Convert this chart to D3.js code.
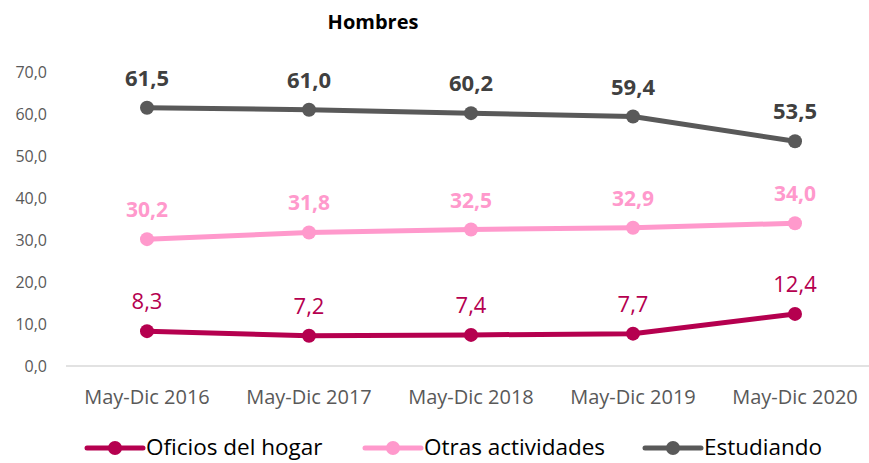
<!DOCTYPE html>
<html>
<head>
<meta charset="utf-8">
<script src="https://d3js.org/d3.v7.min.js"></script>
<style>
  body { margin: 0; background: #fff; }
  text { font-family: "Open Sans", "Noto Sans", sans-serif; }
</style>
</head>
<body>
<div id="chart"></div>
<script>
// data
var periods = ["May-Dic 2016", "May-Dic 2017", "May-Dic 2018", "May-Dic 2019", "May-Dic 2020"];
var oficios = [8.3, 7.2, 7.4, 7.7, 12.4];
var otras = [30.2, 31.8, 32.5, 32.9, 34.0];
var estudiando = [61.5, 61.0, 60.2, 59.4, 53.5];
var yTicks = [0, 10, 20, 30, 40, 50, 60, 70];

var series = [
  {name: "Oficios del hogar", values: oficios, color: "#B5004F", labelColor: "#B5004F", weight: "normal", size: 22},
  {name: "Otras actividades", values: otras, color: "#FF99CC", labelColor: "#FF99CC", weight: "bold", size: 21},
  {name: "Estudiando", values: estudiando, color: "#595959", labelColor: "#404040", weight: "bold", size: 22}
];

var width = 869, height = 463;
var fmt = function(v) { return v.toFixed(1).replace(".", ","); };

var svg = d3.select("#chart").append("svg")
    .attr("width", width)
    .attr("height", height);

var x = d3.scalePoint()
    .domain(periods)
    .range([147, 795]);

var y = d3.scaleLinear()
    .domain([0, 70])
    .range([366, 72]);

// title
svg.append("text")
    .attr("x", 373).attr("y", 29)
    .attr("text-anchor", "middle")
    .style("font-weight", "bold")
    .style("font-size", "20px")
    .attr("fill", "#000")
    .text("Hombres");

// y axis labels
svg.selectAll(".ytick")
  .data(yTicks)
  .enter().append("text")
    .attr("class", "ytick")
    .attr("x", 47)
    .attr("y", function(d) { return y(d); })
    .attr("dy", "0.35em")
    .attr("text-anchor", "end")
    .style("font-size", "16px")
    .attr("fill", "#595959")
    .text(function(d) { return fmt(d); });

// baseline
svg.append("line")
    .attr("x1", 66).attr("x2", 876)
    .attr("y1", y(0)).attr("y2", y(0))
    .attr("stroke", "#d9d9d9")
    .attr("stroke-width", 1.5);

// x labels
svg.selectAll(".xtick")
  .data(periods)
  .enter().append("text")
    .attr("class", "xtick")
    .attr("x", function(d) { return x(d); })
    .attr("y", 404)
    .attr("text-anchor", "middle")
    .style("font-size", "20px")
    .attr("fill", "#595959")
    .text(function(d) { return d; });

var line = d3.line()
    .x(function(d, i) { return x(periods[i]); })
    .y(function(d) { return y(d); });

series.forEach(function(s) {
  var g = svg.append("g");
  g.append("path")
      .datum(s.values)
      .attr("d", line)
      .attr("fill", "none")
      .attr("stroke", s.color)
      .attr("stroke-width", 5)
      .attr("stroke-linejoin", "round");

  g.selectAll("circle")
    .data(s.values)
    .enter().append("circle")
      .attr("cx", function(d, i) { return x(periods[i]); })
      .attr("cy", function(d) { return y(d); })
      .attr("r", 7)
      .attr("fill", s.color);

  g.selectAll(".lbl")
    .data(s.values)
    .enter().append("text")
      .attr("class", "lbl")
      .attr("x", function(d, i) { return x(periods[i]); })
      .attr("y", function(d) { return y(d) - 22; })
      .attr("text-anchor", "middle")
      .style("font-size", s.size + "px")
      .style("font-weight", s.weight)
      .attr("fill", s.labelColor)
      .text(function(d) { return fmt(d); });
});

// legend
var legendX = [87, 365, 645];
var legend = svg.selectAll(".legend")
  .data(series)
  .enter().append("g")
    .attr("class", "legend")
    .attr("transform", function(d, i) { return "translate(" + legendX[i] + ",448)"; });

legend.append("line")
    .attr("x1", 0).attr("x2", 56)
    .attr("y1", 0).attr("y2", 0)
    .attr("stroke", function(d) { return d.color; })
    .attr("stroke-width", 5)
    .attr("stroke-linecap", "round");

legend.append("circle")
    .attr("cx", 28).attr("cy", 0).attr("r", 7)
    .attr("fill", function(d) { return d.color; });

legend.append("text")
    .attr("x", 59).attr("y", 0)
    .attr("dy", "0.33em")
    .style("font-size", "22.5px")
    .attr("fill", "#000")
    .text(function(d) { return d.name; });
</script>
</body>
</html>
